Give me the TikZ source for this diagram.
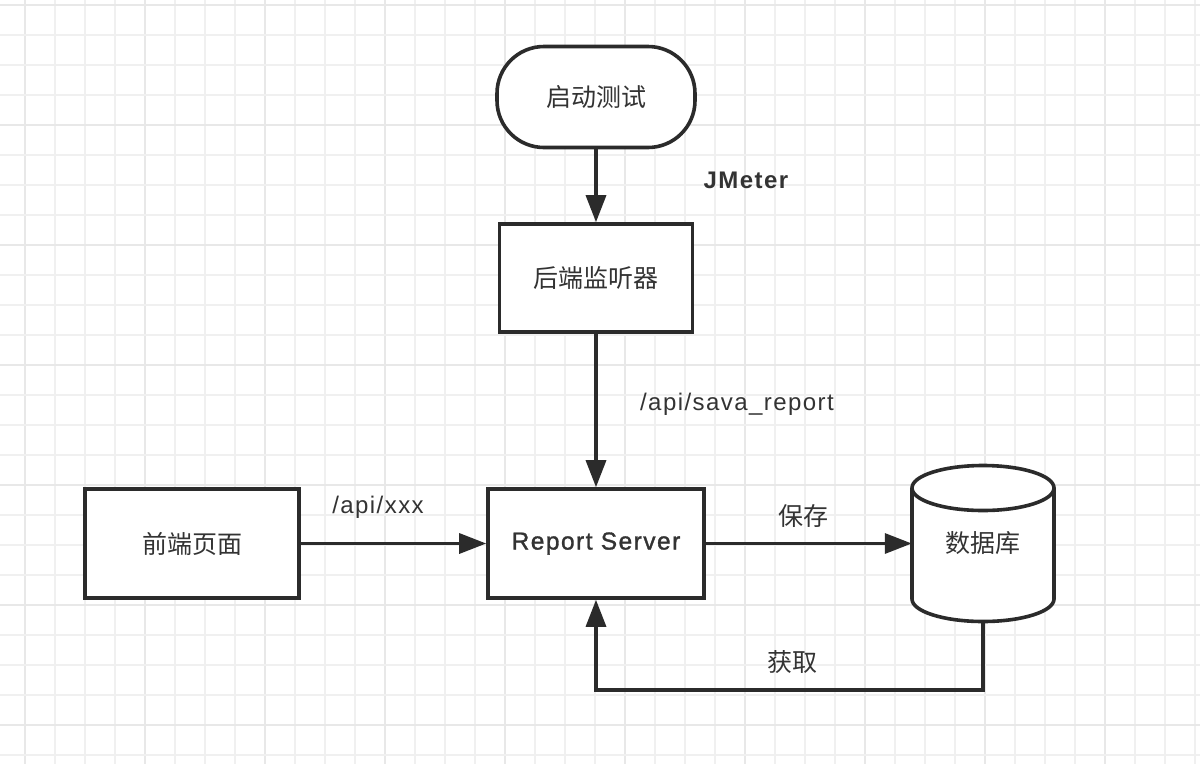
\documentclass[tikz,border=0pt]{standalone}
\usepackage{fontspec}
\setmainfont{Liberation Sans}[LetterSpace=6]
\newfontfamily\cjk{Noto Sans CJK SC}
\newfontfamily\latb{Liberation Sans}[LetterSpace=6]
\usetikzlibrary{arrows.meta}
\definecolor{ink}{HTML}{2B2B2B}
\definecolor{txt}{HTML}{333333}
\definecolor{gridminor}{HTML}{F0F0F0}
\definecolor{gridmajor}{HTML}{E8E8E8}
\begin{document}
\begin{tikzpicture}[x=1pt,y=-1pt,
  box/.style={draw=ink,line width=3.6pt,fill=white,inner sep=0pt,text=txt},
  cjktext/.style={font=\cjk\fontsize{25}{29}\selectfont,text=txt},
  lbl/.style={font=\fontsize{24}{28}\selectfont,text=txt,inner sep=0pt},
  conn/.style={draw=ink,line width=3.3pt,-{Triangle[length=27pt,width=20pt]}},
  plain/.style={draw=ink,line width=3.3pt}]
\fill[white] (0,0) rectangle (1200,764);
\useasboundingbox (0,0) rectangle (1200,764);
% grid
\foreach \k in {0,...,39} {
  \pgfmathtruncatemacro\m{mod(\k,4)}
  \ifnum\m=0 \draw[gridmajor,line width=2pt] (25+30*\k,0) -- (25+30*\k,764);
  \else \draw[gridminor,line width=1.5pt] (25+30*\k,0) -- (25+30*\k,764); \fi
}
\foreach \k in {0,...,25} {
  \pgfmathtruncatemacro\m{mod(\k,4)}
  \ifnum\m=0 \draw[gridmajor,line width=2pt] (0,5+30*\k) -- (1200,5+30*\k);
  \else \draw[gridminor,line width=1.5pt] (0,5+30*\k) -- (1200,5+30*\k); \fi
}
% nodes
\node[box,cjktext,rounded corners=47pt,minimum width=198pt,minimum height=101pt] (start) at (596,97) {启动测试};
\node[box,cjktext,minimum width=193pt,minimum height=108pt] (listen) at (596,278) {后端监听器};
\node[box,minimum width=216pt,minimum height=109pt,font=\latb\fontsize{24.5}{28}\selectfont\addfontfeature{FakeBold=1.3}] (server) at (596,543.5) {Report Server};
\node[box,cjktext,minimum width=214pt,minimum height=109pt] (front) at (192,543.5) {前端页面};
% database cylinder
\node[inner sep=0pt,minimum width=142pt,minimum height=157pt] (db) at (983,543.5) {};
\filldraw[ink,fill=white,line width=3.6pt]
  (912,488) -- (912,599) arc[start angle=180,end angle=360,x radius=71,y radius=-22.5]
  -- (1054,488) arc[start angle=0,end angle=180,x radius=71,y radius=-22.5] -- cycle;
\draw[ink,line width=3.6pt] (912,488) arc[start angle=180,end angle=360,x radius=71,y radius=-22.5];
\node[cjktext] at (db.center) {数据库};
% labels
\node[lbl,font=\bfseries\fontsize{24}{28}\selectfont] (jm) at (746,180) {JMeter};
\node[lbl] (sava) at (737,404) {/api/sava\_report};
\node[lbl] (xxx) at (378,507) {/api/xxx};
\node[cjktext] (save) at (803,516) {保存};
\node[cjktext] (get) at (792,662) {获取};
% connectors
\draw[conn] (start.south) -- (listen.north);
\draw[conn] (listen.south) -- (server.north);
\draw[conn] (front.east) -- (server.west);
\draw[conn] (server.east) -- (db.west);
\coordinate (c1) at (983,690);
\coordinate (c2) at (596,690);
\draw[conn] (db.south) -- (c1) -- (c2) -- (server.south);
\end{tikzpicture}
\end{document}
